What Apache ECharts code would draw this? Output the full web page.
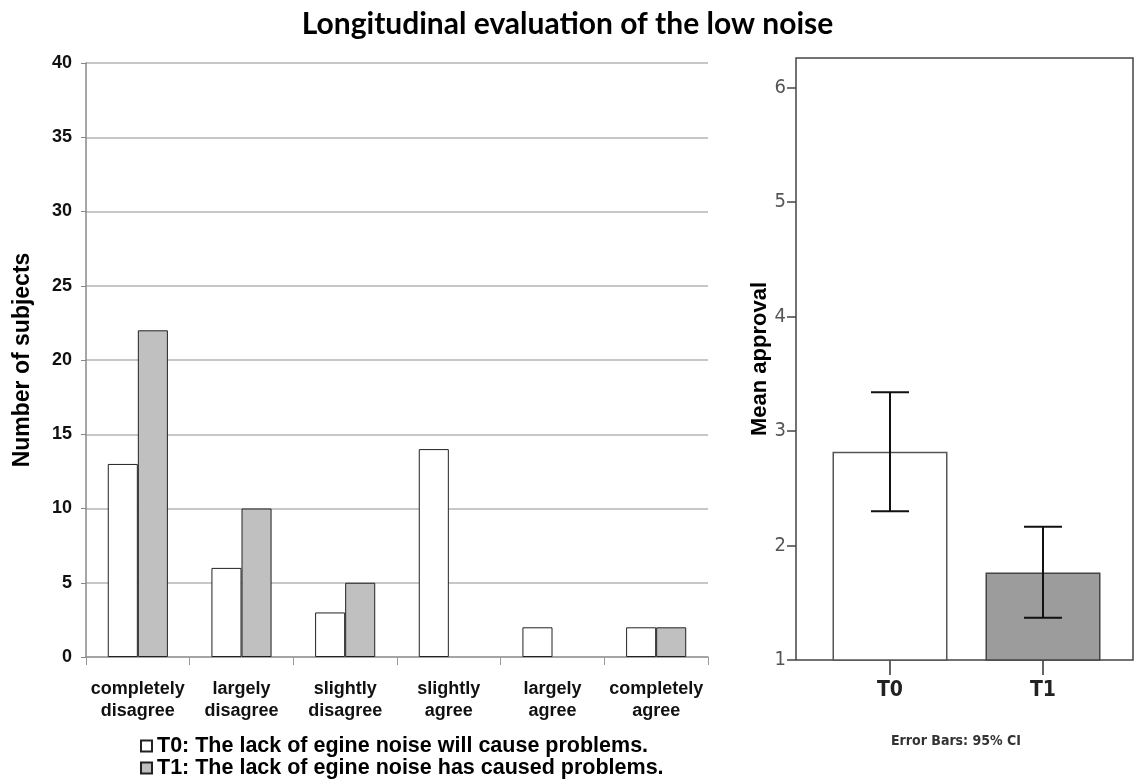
<!DOCTYPE html>
<html>
<head>
<meta charset="utf-8">
<script src="https://cdn.jsdelivr.net/npm/echarts@6/dist/echarts.min.js"></script>
<style>
  html, body { margin: 0; padding: 0; background: #fff; }
  #container { width: 1135px; height: 782px; }
</style>
</head>
<body>
<div id="container"></div>
<script>
var categories = ['completely\ndisagree', 'largely\ndisagree', 'slightly\ndisagree', 'slightly\nagree', 'largely\nagree', 'completely\nagree'];
var t0Counts = [13, 6, 3, 14, 2, 2];
var t1Counts = [22, 10, 5, 0, 0, 2];
var countTicks = [0, 5, 10, 15, 20, 25, 30, 35, 40];

var groups = ['T0', 'T1'];
var meanApproval = [2.82, 1.765];
var ciLow = [2.30, 1.37];
var ciHigh = [3.34, 2.165];
var meanTicks = [1, 2, 3, 4, 5, 6];

var T0_NAME = 'T0: The lack of egine noise will cause problems.';
var T1_NAME = 'T1: The lack of egine noise has caused problems.';

var chart = echarts.init(document.getElementById('container'));

// empty counts are not drawn as bars in the original
function noZero(arr) {
  return arr.map(function (v) { return v === 0 ? '-' : v; });
}

var errData = [];
for (var i = 0; i < groups.length; i++) {
  errData.push([i, ciLow[i], ciHigh[i]]);
}
var meanData = [];
for (var i = 0; i < meanApproval.length; i++) {
  meanData.push({
    value: meanApproval[i],
    itemStyle: i == 0 ? { color: '#fff', borderColor: '#555', borderWidth: 1.5 }
                      : { color: '#9c9c9c', borderColor: '#444', borderWidth: 1.5 }
  });
}

var legendText = { fontFamily: 'Arial', fontWeight: 'bold', fontSize: 21.5, color: '#000' };

var option = {
  backgroundColor: '#fff',
  animation: false,
  title: {
    text: 'Longitudinal evaluation of the low noise',
    left: 'center',
    top: 4,
    textStyle: { fontFamily: 'Lato', fontWeight: 'bold', fontSize: 30, color: '#000' }
  },
  legend: [
    {
      left: 140, top: 735, padding: 0,
      itemWidth: 11, itemHeight: 11, icon: 'rect',
      data: [T0_NAME], textStyle: legendText
    },
    {
      left: 140, top: 757, padding: 0,
      itemWidth: 11, itemHeight: 11, icon: 'rect',
      data: [T1_NAME], textStyle: legendText
    }
  ],
  grid: [
    { left: 86, top: 63, width: 622, height: 594 },
    { left: 796, top: 58, width: 337, height: 602, show: true, borderColor: '#444', borderWidth: 1.5 },
    { left: 813.5, top: 58, width: 306, height: 602 }
  ],
  xAxis: [
    {
      gridIndex: 0,
      type: 'category',
      data: categories,
      axisLine: { lineStyle: { color: '#999', width: 1.5 } },
      axisTick: { show: true, length: 8, lineStyle: { color: '#999' } },
      axisLabel: { interval: 0, margin: 21, fontFamily: 'Arial', fontWeight: 'bold', fontSize: 18, lineHeight: 22, color: '#111' }
    },
    { gridIndex: 1, type: 'value', show: false },
    {
      gridIndex: 2,
      type: 'category',
      data: groups,
      axisLine: { show: false },
      axisTick: { show: true, alignWithLabel: true, length: 15, lineStyle: { color: '#333', width: 1.5 } },
      axisLabel: { margin: 20, fontFamily: 'Liberation Sans Narrow, DejaVu Sans Condensed, Arial', fontWeight: 'bold', fontSize: 21, color: '#222' }
    }
  ],
  yAxis: [
    {
      gridIndex: 0,
      type: 'value',
      min: 0,
      max: 40,
      interval: 5,
      name: 'Number of subjects',
      nameLocation: 'middle',
      nameGap: 52,
      nameTextStyle: { fontFamily: 'Arial', fontWeight: 'bold', fontSize: 23, color: '#000' },
      axisLine: { show: true, lineStyle: { color: '#888', width: 1.5 } },
      axisTick: { show: true, length: 5, lineStyle: { color: '#888' } },
      splitLine: { lineStyle: { color: '#b5b5b5', width: 1.5 } },
      axisLabel: { margin: 14, fontFamily: 'Arial', fontWeight: 'bold', fontSize: 18, color: '#111' }
    },
    { gridIndex: 1, type: 'value', show: false },
    {
      gridIndex: 2,
      type: 'value',
      min: 1,
      max: 6.26,
      offset: 17.5,
      name: 'Mean approval',
      nameLocation: 'middle',
      nameGap: 25,
      nameTextStyle: { fontFamily: 'Arial', fontWeight: 'bold', fontSize: 22, color: '#000' },
      axisLine: { show: false },
      axisTick: { show: true, length: 9, customValues: meanTicks, lineStyle: { color: '#444', width: 1.5 } },
      splitLine: { show: false },
      axisLabel: { margin: 10, customValues: meanTicks, fontFamily: 'Liberation Sans Narrow, DejaVu Sans Condensed, Arial', fontSize: 20, color: '#555' }
    }
  ],
  series: [
    {
      name: T0_NAME,
      type: 'bar',
      xAxisIndex: 0,
      yAxisIndex: 0,
      data: noZero(t0Counts),
      barGap: '0%',
      barCategoryGap: '42%',
      itemStyle: { color: '#fff', borderColor: '#222', borderWidth: 1 }
    },
    {
      name: T1_NAME,
      type: 'bar',
      xAxisIndex: 0,
      yAxisIndex: 0,
      data: noZero(t1Counts),
      barGap: '0%',
      barCategoryGap: '42%',
      itemStyle: { color: '#c0c0c0', borderColor: '#222', borderWidth: 1 }
    },
    {
      name: 'mean',
      type: 'bar',
      xAxisIndex: 2,
      yAxisIndex: 2,
      barWidth: 115,
      data: meanData
    },
    {
      name: 'ci',
      type: 'custom',
      xAxisIndex: 2,
      yAxisIndex: 2,
      data: errData,
      z: 5,
      renderItem: function (params, api) {
        var x = api.value(0);
        var lo = api.coord([x, api.value(1)]);
        var hi = api.coord([x, api.value(2)]);
        var half = 19;
        var style = { stroke: '#111', lineWidth: 2 };
        return {
          type: 'group',
          children: [
            { type: 'line', shape: { x1: hi[0], y1: hi[1], x2: lo[0], y2: lo[1] }, style: style },
            { type: 'line', shape: { x1: hi[0] - half, y1: hi[1], x2: hi[0] + half, y2: hi[1] }, style: style },
            { type: 'line', shape: { x1: lo[0] - half, y1: lo[1], x2: lo[0] + half, y2: lo[1] }, style: style }
          ]
        };
      }
    }
  ],
  graphic: [
    {
      type: 'text',
      x: 956,
      y: 741,
      style: {
        text: 'Error Bars: 95% CI',
        align: 'center',
        verticalAlign: 'middle',
        fontFamily: 'Liberation Sans Narrow, DejaVu Sans Condensed, Arial',
        fontWeight: 'bold',
        fontSize: 14,
        fill: '#333'
      }
    }
  ]
};

chart.setOption(option);
</script>
</body>
</html>
